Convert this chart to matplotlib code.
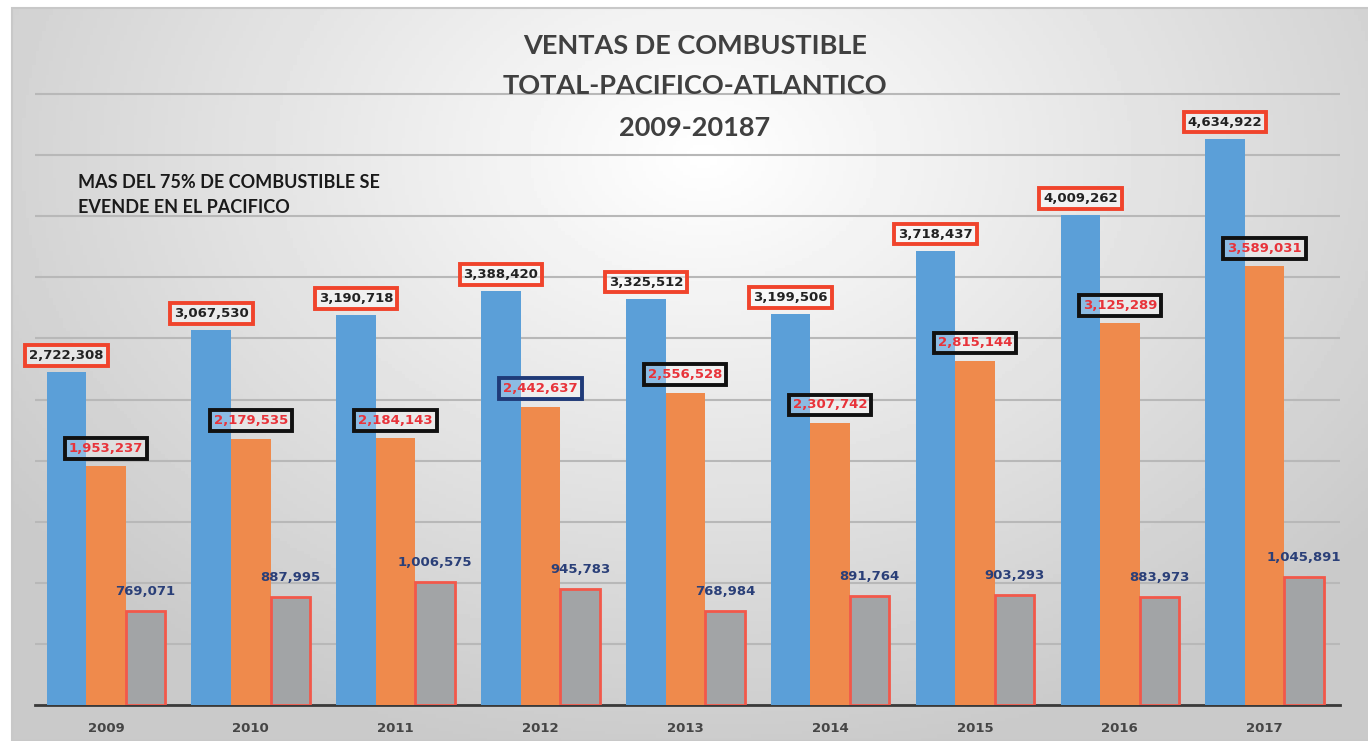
import numpy as np
import matplotlib.pyplot as plt

# Data
years = ["2009", "2010", "2011", "2012", "2013", "2014", "2015", "2016", "2017"]
total = [2722308, 3067530, 3190718, 3388420, 3325512, 3199506, 3718437, 4009262, 4634922]
pacifico = [1953237, 2179535, 2184143, 2442637, 2556528, 2307742, 2815144, 3125289, 3589031]
atlantico = [769071, 887995, 1006575, 945783, 768984, 891764, 903293, 883973, 1045891]

fig = plt.figure(figsize=(13.68, 7.41), dpi=100)

# background radial gradient
bg = fig.add_axes([12 / 1368, 0, 1 - 12 / 1368, 1 - 8 / 741])
gx, gy = np.meshgrid(np.linspace(-1, 1, 400), np.linspace(-1, 1, 220))
r = np.sqrt(((gx - 0.02) / 1.2) ** 2 + ((gy + 0.6) / 1.6) ** 2)
shade = np.clip(1.0 - 0.2 * r, 0.79, 1.0)
bg.imshow(shade, cmap="gray", vmin=0, vmax=1, aspect="auto", extent=[0, 1, 0, 1])
bg.set_xlim(0, 1)
bg.set_ylim(0, 1)
bg.axis("off")
fig.patches.append(plt.Rectangle((12 / 1368, 0), 1, 1 - 8 / 741, transform=fig.transFigure,
                                 fill=False, edgecolor="#c8c8c8", lw=1.5))

ax = fig.add_axes([35 / 1368, 36 / 741, (1340 - 35) / 1368, (705 - 33) / 741])
ax.patch.set_alpha(0)

x = np.arange(len(years))
w = 0.273
ax.bar(x - w, total, w, color="#5b9fd8", zorder=3)
ax.bar(x, pacifico, w, color="#ef8a4c", zorder=3)
ax.bar(x + w, atlantico, w, color="#a2a4a6", edgecolor="#f2584a", lw=2, zorder=3)

ax.set_xlim(-0.49, 8.52)
ax.set_ylim(0, 5.5e6)
ax.set_yticks(np.arange(0, 5.01e6, 5e5))
ax.yaxis.grid(True, color="#b8b8b8", lw=1.5, zorder=0)
ax.tick_params(axis="y", length=0, labelleft=False)
ax.tick_params(axis="x", length=0, pad=12)
ax.set_xticks(x)
ax.set_xticklabels(years, fontsize=9.5, fontweight="bold", color="#454545")
for s in ["top", "right", "left"]:
    ax.spines[s].set_visible(False)
ax.spines["bottom"].set_color("#3a3a3a")
ax.spines["bottom"].set_linewidth(2)

# value labels
for i in range(len(years)):
    ax.annotate(f"{total[i]:,}", (x[i] - w, total[i]), xytext=(0, 12), textcoords="offset points",
                ha="center", va="center", fontsize=9.5, fontweight="bold", color="#222222", zorder=5,
                bbox=dict(boxstyle="square,pad=0.3", fc=(1, 1, 1, 0.45), ec="#f0442c", lw=2.8))
    edge = "#1f3a78" if years[i] == "2012" else "#111111"
    ax.annotate(f"{pacifico[i]:,}", (x[i], pacifico[i]), xytext=(0, 13), textcoords="offset points",
                ha="center", va="center", fontsize=9.5, fontweight="bold", color="#e8333a", zorder=5,
                bbox=dict(boxstyle="square,pad=0.3", fc=(1, 1, 1, 0.3), ec=edge, lw=2.8))
    ax.annotate(f"{atlantico[i]:,}", (x[i] + w, atlantico[i]), xytext=(0, 14), textcoords="offset points",
                ha="center", va="center", fontsize=9.5, fontweight="bold", color="#2a3f78", zorder=5)

# titles
for txt, yy in [("VENTAS DE COMBUSTIBLE", 46), ("TOTAL-PACIFICO-ATLANTICO", 86), ("2009-20187", 128)]:
    fig.text(695 / 1368, 1 - yy / 741, txt, ha="center", va="center", fontsize=19.5,
             fontweight="bold", color="#404040", family="Lato")

fig.text(78 / 1368, 1 - 174 / 741, "MAS DEL 75% DE COMBUSTIBLE SE\nEVENDE EN EL PACIFICO",
         ha="left", va="top", fontsize=13, fontweight="bold", color="#1a1a1a", family="Lato",
         linespacing=1.55)

fig.savefig("out.png", dpi=100)
